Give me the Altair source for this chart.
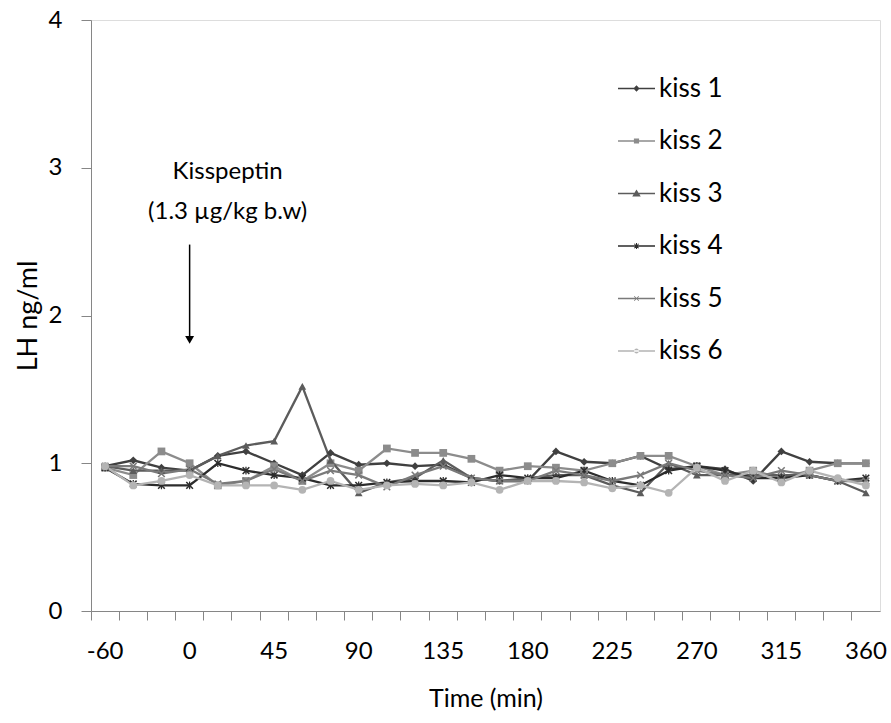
import json
import altair as alt
import pandas as pd

# ---------------- data ----------------
times = [-60, -40, -20, 0, 15, 30, 45, 60, 75, 90, 105, 120, 135, 150, 165, 180,
         195, 210, 225, 240, 255, 270, 285, 300, 315, 330, 345, 360]
labelled_times = [-60, 0, 45, 90, 135, 180, 225, 270, 315, 360]
series_names = ["kiss 1", "kiss 2", "kiss 3", "kiss 4", "kiss 5", "kiss 6"]

kiss1 = [0.98, 1.02, 0.97, 0.95, 1.05, 1.08, 1.00, 0.92, 1.07, 0.99, 1.00, 0.98, 0.99, 0.90,
         0.88, 0.88, 1.08, 1.01, 1.00, 1.05, 0.96, 0.98, 0.96, 0.88, 1.08, 1.01, 1.00, 1.00]
kiss2 = [0.97, 0.92, 1.08, 1.00, 0.85, 0.88, 0.98, 0.88, 1.00, 0.95, 1.10, 1.07, 1.07, 1.03,
         0.95, 0.98, 0.97, 0.95, 1.00, 1.05, 1.05, 0.98, 0.92, 0.95, 0.90, 0.95, 1.00, 1.00]
kiss3 = [0.98, 0.95, 0.95, 0.95, 1.05, 1.12, 1.15, 1.52, 1.02, 0.80, 0.87, 0.90, 1.02, 0.90,
         0.88, 0.90, 0.92, 0.92, 0.85, 0.80, 1.00, 0.92, 0.92, 0.92, 0.92, 0.92, 0.88, 0.80]
kiss4 = [0.97, 0.86, 0.85, 0.85, 1.00, 0.95, 0.92, 0.90, 0.85, 0.85, 0.87, 0.88, 0.88, 0.87,
         0.92, 0.90, 0.90, 0.95, 0.88, 0.85, 0.95, 0.98, 0.95, 0.90, 0.90, 0.92, 0.88, 0.90]
kiss5 = [0.98, 0.98, 0.93, 0.96, 0.86, 0.88, 0.96, 0.88, 0.95, 0.92, 0.84, 0.92, 0.98, 0.90,
         0.88, 0.88, 0.95, 0.92, 0.88, 0.92, 1.00, 0.95, 0.92, 0.90, 0.95, 0.92, 0.88, 0.88]
kiss6 = [0.98, 0.85, 0.88, 0.92, 0.85, 0.85, 0.85, 0.82, 0.88, 0.82, 0.85, 0.86, 0.85, 0.87,
         0.82, 0.88, 0.88, 0.87, 0.83, 0.85, 0.80, 0.97, 0.88, 0.95, 0.87, 0.95, 0.90, 0.85]
all_series = [kiss1, kiss2, kiss3, kiss4, kiss5, kiss6]

annotation_lines = ["Kisspeptin", "(1.3 µg/kg b.w)"]

# ---------------- styles ----------------
series_colors = ["#404040", "#8c8c8c", "#5c5c5c", "#2c2c2c", "#7a7a7a", "#b4b4b4"]

X_SHAPE = "M-1,-0.72L-0.72,-1L1,0.72L0.72,1Z M0.72,-1L1,-0.72L-0.72,1L-1,0.72Z"
STAR_SHAPE = "M-0.16,-1H0.16V1H-0.16Z " + X_SHAPE
marker_shapes = ["diamond", "square", "triangle-up", STAR_SHAPE, X_SHAPE, "circle"]

LINE = "M-1,-0.045H1V0.045H-1Z "
SMALL_X = "M-0.14,-0.11L-0.11,-0.14L0.14,0.11L0.11,0.14Z M0.11,-0.14L0.14,-0.11L-0.11,0.14L-0.14,0.11Z"
legend_shapes = [
    LINE + "M0,-0.17L0.17,0L0,0.17L-0.17,0Z",
    LINE + "M-0.14,-0.14H0.14V0.14H-0.14Z",
    LINE + "M0,-0.21L0.23,0.16H-0.23Z",
    LINE + "M-0.03,-0.16H0.03V0.16H-0.03Z " + SMALL_X,
    LINE + SMALL_X,
    LINE + "M-0.13,0A0.13,0.13,0,1,0,0.13,0A0.13,0.13,0,1,0,-0.13,0Z",
]

FONT = "Lato"
AXIS_GRAY = "#868686"

rows = []
for name, vals, mk in zip(series_names, all_series, marker_shapes):
    for t, v in zip(times, vals):
        rows.append({"time": str(t), "LH": v, "series": name, "marker": mk})
df = pd.DataFrame(rows)

time_order = [str(t) for t in times]
label_list = json.dumps([str(t) for t in labelled_times])

x_enc = alt.X(
    "time:O",
    sort=time_order,
    bandPosition=0.5,
    scale=alt.Scale(type="band", domain=time_order, paddingInner=0, paddingOuter=0),
    axis=alt.Axis(
        title="Time (min)",
        bandPosition=0,
        labelExpr=f"indexof({label_list}, datum.label) >= 0 ? datum.label : ''",
        labelAngle=0,
        tickSize=9,
        tickColor=AXIS_GRAY,
        domainColor=AXIS_GRAY,
        labelPadding=19,
        labelFontSize=24,
        labelFont=FONT,
        labelColor="#000000",
        titleFont=FONT,
        titleFontSize=25,
        titleFontWeight="normal",
        titleColor="#000000",
        titlePadding=23,
        grid=False,
    ),
)
y_scale = alt.Scale(domain=[0, 4], nice=False)
y_enc = alt.Y(
    "LH:Q",
    scale=y_scale,
    axis=alt.Axis(
        title="LH ng/ml",
        values=[0, 1, 2, 3, 4],
        format=".0f",
        grid=False,
        tickSize=10,
        tickColor=AXIS_GRAY,
        domainColor=AXIS_GRAY,
        labelPadding=19,
        labelFontSize=24,
        labelFont=FONT,
        labelColor="#000000",
        titleFont=FONT,
        titleFontSize=27,
        titleFontWeight="normal",
        titleColor="#000000",
        titlePadding=6,
    ),
)
color_scale = alt.Scale(domain=series_names, range=series_colors)

shape_expr = (
    json.dumps(legend_shapes) + "[indexof(" + json.dumps(series_names) + ", datum.value)]"
)

legend = alt.Legend(
    title=None,
    orient="none",
    legendX=527,
    legendY=50,
    symbolSize=1369,
    symbolType=alt.ExprRef(expr=shape_expr),
    symbolFillColor=alt.ExprRef(expr="scale('color', datum.value)"),
    symbolStrokeWidth=0,
    symbolOpacity=1,
    labelFont=FONT,
    labelFontSize=26,
    labelColor="#000000",
    labelOffset=4,
    rowPadding=20.5,
)

base = alt.Chart(df)

lines = base.mark_line(strokeWidth=2.3).encode(
    x=x_enc, y=y_enc,
    color=alt.Color("series:N", scale=color_scale, legend=legend),
    detail="series:N",
)

points = base.mark_point(filled=True, opacity=1, size=60, strokeWidth=0).encode(
    x=x_enc, y=y_enc,
    color=alt.Color("series:N", scale=color_scale, legend=None),
    shape=alt.Shape("marker:N", scale=None),
)

# annotation: text + arrow at the injection time
annot_df = pd.DataFrame({"time": ["0", "0"], "LH": [2.97, 2.70], "text": annotation_lines})
annot_text = alt.Chart(annot_df).mark_text(
    font=FONT, fontSize=24, color="#000000", dx=38, baseline="middle"
).encode(x=x_enc, y=y_enc, text="text:N")

arrow_df = pd.DataFrame({"time": ["0"], "LH": [2.48], "LH2": [1.86], "head": [1.835]})
arrow_shaft = alt.Chart(arrow_df).mark_rule(color="#000000", strokeWidth=1.5).encode(
    x=x_enc, y=alt.Y("LH:Q", scale=y_scale), y2="LH2:Q"
)
arrow_head = alt.Chart(arrow_df).mark_point(
    shape="triangle-down", filled=True, opacity=1, color="#000000", size=80
).encode(x=x_enc, y=alt.Y("head:Q", scale=y_scale))

chart = alt.layer(lines, points, annot_text, arrow_shaft, arrow_head).properties(
    width=789,
    height=591,
    autosize=alt.AutoSizeParams(type="none"),
    padding={"left": 91, "top": 20, "right": 11, "bottom": 112},
).configure_view(stroke=None).configure(background="#ffffff")

chart.save("out.html", embed_options={"renderer": "svg", "actions": False})
